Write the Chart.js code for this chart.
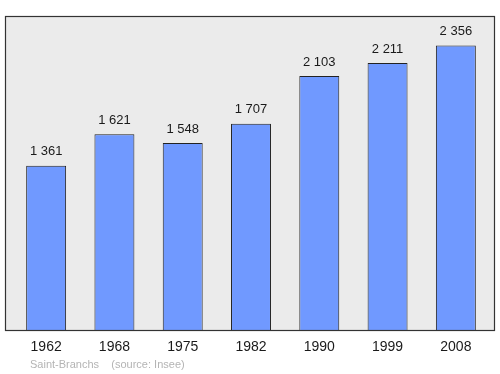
<!DOCTYPE html>
<html>
<head>
<meta charset="utf-8">
<script src="https://cdn.jsdelivr.net/npm/chart.js@4/dist/chart.umd.min.js"></script>
<style>
  html, body { margin: 0; padding: 0; background: #fff; }
  #wrap { width: 500px; height: 374px; }
</style>
</head>
<body>
<div id="wrap"><canvas id="pop_chart" width="500" height="374"></canvas></div>
<script>
// Saint-Branchs population (source: Insee)
var years = ['1962', '1968', '1975', '1982', '1990', '1999', '2008']
var population = [1361, 1621, 1548, 1707, 2103, 2211, 2356]
var footerText = 'Saint-Branchs    (source: Insee)'

function fmt(n) {
  return String(n).replace(/\B(?=(\d{3})+(?!\d))/g, ' ')
}

// grey box behind the bars, with a dark frame
var frame = {
  id: 'frame',
  beforeDraw: function (chart) {
    var ctx = chart.ctx
    var a = chart.chartArea
    ctx.save()
    ctx.fillStyle = '#ebebeb'
    ctx.fillRect(5.5, a.top, 489, a.bottom - a.top)
    ctx.restore()
  },
  afterDatasetsDraw: function (chart) {
    var ctx = chart.ctx
    var a = chart.chartArea
    ctx.save()
    ctx.strokeStyle = '#333'
    ctx.lineWidth = 1.2
    ctx.strokeRect(5.5, a.top + 0.5, 489, a.bottom - a.top)
    ctx.restore()
  },
  afterDraw: function (chart) {
    var ctx = chart.ctx
    var x = chart.scales.x
    var meta = chart.getDatasetMeta(0)
    ctx.save()
    ctx.textAlign = 'center'
    ctx.textBaseline = 'middle'
    ctx.fillStyle = '#1a1a1a'
    ctx.font = '13px "Liberation Sans", Arial, sans-serif'
    meta.data.forEach(function (bar, i) {
      ctx.fillText(fmt(population[i]), bar.x, bar.y - 14)
    })
    ctx.font = '14px "Liberation Sans", Arial, sans-serif'
    years.forEach(function (y, i) {
      ctx.fillText(y, x.getPixelForValue(i), 347)
    })
    ctx.textAlign = 'left'
    ctx.fillStyle = '#b4b4b4'
    ctx.font = '11px "Liberation Sans", Arial, sans-serif'
    ctx.fillText(footerText, 30, 365)
    ctx.restore()
  }
}

var ctx = document.getElementById('pop_chart').getContext('2d')
var myChart = new Chart(ctx, {
  type: 'bar',
  data: {
    labels: years,
    datasets: [
      {
        data: population,
        backgroundColor: '#7099ff',
        borderColor: '#222',
        borderWidth: 1,
        barPercentage: 0.585,
        categoryPercentage: 1,
      },
    ],
  },
  options: {
    responsive: false,
    animation: false,
    layout: { padding: { left: 12, right: 10, top: 16, bottom: 44 } },
    plugins: { legend: { display: false }, tooltip: { enabled: false } },
    scales: {
      x: { display: false },
      y: { display: false, min: 0, max: 2600 },
    },
  },
  plugins: [frame],
})
</script>
</body>
</html>
